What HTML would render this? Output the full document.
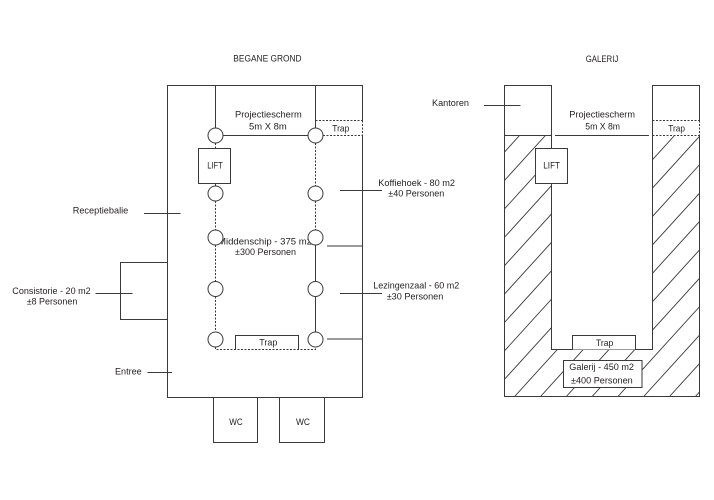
<!DOCTYPE html>
<html><head><meta charset="utf-8"><style>
html,body{margin:0;padding:0;background:#fff;width:714px;height:500px;overflow:hidden;}
svg{display:block;}
text{font-family:"Liberation Sans",sans-serif;font-size:9.3px;fill:#231f20;}
</style></head><body>
<svg width="714" height="500" viewBox="0 0 714 500" xmlns="http://www.w3.org/2000/svg">
<rect width="714" height="500" fill="#fff"/>
<defs>
<clipPath id="hc"><path d="M504.5 135.5 H551.5 V349.5 H652.5 V135.5 H699.5 V396.5 H504.5 Z"/></clipPath>
</defs>
<g fill="none" stroke="#3a3a3a" stroke-width="1">
<path d="M362.5 120.5 V85.5 H167.5 V397.5 H362.5 V135.5"/>
<path d="M362.5 120.5 V135.5" stroke-dasharray="2 1.5"/>
<path d="M215.5 85.5 V128 M315.5 85.5 V128 M223 135.5 H308"/>
<path d="M315.5 120.5 H362.5 M323 135.5 H362.5" stroke-dasharray="2 1.5"/>
<path d="M215.5 143 V148.5 M215.5 183.5 V186 M215.5 201 V230 M215.5 245 V281.5 M215.5 296.5 V332 M215.5 347 V349.5 H315.5 V347" stroke-dasharray="2 1.5"/>
<path d="M315.5 143 V186 M315.5 201 V230" stroke-dasharray="2 1.5"/>
<path d="M315.5 245 V281.5 M315.5 296.5 V332"/>
<rect x="198.5" y="148.5" width="32" height="35"/>
<path d="M327 246 H362.5 M327 339 H362.5 M340 190.5 H382 M340 293.5 H382"/>
<path d="M144 213.5 H180.5 M167.5 262.5 H120.5 V319.5 H167.5 M95.5 293.5 H132.5 M147.5 372.5 H172"/>
<path d="M235.5 349.5 V335.5 H298.5 V349.5"/>
<path d="M213.5 397.5 V442.5 H257.5 V397.5 M279.5 397.5 V442.5 H324.5 V397.5"/>
</g>
<text x="233.3" y="61.5" textLength="68.3" lengthAdjust="spacingAndGlyphs">BEGANE GROND</text>
<text x="235" y="117.7" textLength="66.7" lengthAdjust="spacingAndGlyphs">Projectiescherm</text>
<text x="249" y="129.3" textLength="37.7" lengthAdjust="spacingAndGlyphs">5m  X 8m</text>
<text x="332.3" y="131.3" textLength="17" lengthAdjust="spacingAndGlyphs">Trap</text>
<text x="207.3" y="168.7" textLength="15.4" lengthAdjust="spacingAndGlyphs">LIFT</text>
<text x="72.7" y="213.5" textLength="55.6" lengthAdjust="spacingAndGlyphs">Receptiebalie</text>
<text x="378.3" y="186" textLength="76.7" lengthAdjust="spacingAndGlyphs">Koffiehoek - 80 m2</text>
<text x="388.3" y="196.7" textLength="56" lengthAdjust="spacingAndGlyphs">±40 Personen</text>
<text x="218" y="244.3" textLength="94" lengthAdjust="spacingAndGlyphs">Middenschip - 375 m2</text>
<text x="235" y="255" textLength="61" lengthAdjust="spacingAndGlyphs">±300 Personen</text>
<text x="12.3" y="294" textLength="78.4" lengthAdjust="spacingAndGlyphs">Consistorie - 20 m2</text>
<text x="26.7" y="304.7" textLength="50.6" lengthAdjust="spacingAndGlyphs">±8 Personen</text>
<text x="373.3" y="288.3" textLength="86" lengthAdjust="spacingAndGlyphs">Lezingenzaal - 60 m2</text>
<text x="386.7" y="299.3" textLength="56.6" lengthAdjust="spacingAndGlyphs">±30 Personen</text>
<text x="259.3" y="345.3" textLength="18" lengthAdjust="spacingAndGlyphs">Trap</text>
<text x="115" y="374.3" textLength="26.7" lengthAdjust="spacingAndGlyphs">Entree</text>
<text x="229.3" y="425" textLength="13.4" lengthAdjust="spacingAndGlyphs">WC</text>
<text x="296" y="425" textLength="14" lengthAdjust="spacingAndGlyphs">WC</text>
<g fill="#fff" stroke="#3a3a3a" stroke-width="1">
<circle cx="215.5" cy="135.5" r="7.5"/>
<circle cx="315.5" cy="135.5" r="7.5"/>
<circle cx="215.5" cy="193.5" r="7.5"/>
<circle cx="315.5" cy="193.5" r="7.5"/>
<circle cx="215.5" cy="237.5" r="7.5"/>
<circle cx="315.5" cy="237.5" r="7.5"/>
<circle cx="215.5" cy="289" r="7.5"/>
<circle cx="315.5" cy="289" r="7.5"/>
<circle cx="215.5" cy="339.5" r="7.5"/>
<circle cx="315.5" cy="339.5" r="7.5"/>
</g>

<g clip-path="url(#hc)" stroke="#3a3a3a" stroke-width="0.9" fill="none">
<path d="M504.5 152.05 L519.5 135.5 M504.5 180.45 L545.4 135.5 M504.5 208.85 L571.2 135.5 M504.5 237.25 L597 135.5 M504.5 265.65 L622.8 135.5 M504.5 294.05 L648.6 135.5 M504.5 322.45 L674.5 135.5 M504.5 350.85 L699.5 136.35 M504.5 379.25 L699.5 164.75 M514.6 396.5 L699.5 193.15 M540.5 396.5 L699.5 221.55 M566.3 396.5 L699.5 249.95 M592.1 396.5 L699.5 278.35 M617.9 396.5 L699.5 306.75 M643.7 396.5 L699.5 335.15 M669.5 396.5 L699.5 363.55 M695.4 396.5 L699.5 391.95"/>
</g>
<g fill="none" stroke="#3a3a3a" stroke-width="1">
<path d="M699.5 120.5 V85.5 H652.5 V349.5 H551.5 V85.5 H504.5 V396.5 H699.5 V135.5"/>
<path d="M699.5 120.5 V135.5 M652.5 120.5 H699.5 M652.5 135.5 H699.5" stroke-dasharray="2 1.5"/>
<path d="M504.5 135.5 H551.5 M555 135.5 H649 M484 105.5 H520.5"/>
<rect x="535.5" y="148.5" width="32" height="35" fill="#fff"/>
<path d="M572.5 349.5 V335.5 H635.5 V349.5" fill="#fff"/>
<rect x="563.5" y="360.5" width="78.5" height="27" fill="#fff"/>
</g>
<text x="585.7" y="62" textLength="32.6" lengthAdjust="spacingAndGlyphs">GALERIJ</text>
<text x="432" y="106" textLength="37" lengthAdjust="spacingAndGlyphs">Kantoren</text>
<text x="569.3" y="117.7" textLength="65.7" lengthAdjust="spacingAndGlyphs">Projectiescherm</text>
<text x="585.3" y="129.3" textLength="34.7" lengthAdjust="spacingAndGlyphs">5m X 8m</text>
<text x="668.3" y="131.3" textLength="16.7" lengthAdjust="spacingAndGlyphs">Trap</text>
<text x="543.3" y="168.7" textLength="16.7" lengthAdjust="spacingAndGlyphs">LIFT</text>
<text x="596" y="346" textLength="17.3" lengthAdjust="spacingAndGlyphs">Trap</text>
<text x="569.3" y="370" textLength="64.7" lengthAdjust="spacingAndGlyphs">Galerij - 450 m2</text>
<text x="571" y="383.3" textLength="61.7" lengthAdjust="spacingAndGlyphs">±400 Personen</text>
</svg>
</body></html>
